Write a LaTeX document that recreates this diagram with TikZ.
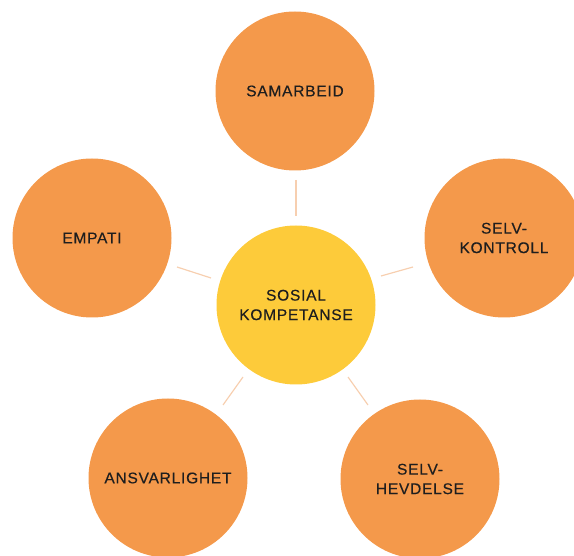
\documentclass[tikz,border=0pt]{standalone}
\usepackage{fontspec}
\setmainfont[LetterSpace=5,FakeBold=0.4]{Liberation Sans}
\definecolor{orangec}{HTML}{F4994B}
\definecolor{yellowc}{HTML}{FDCB3A}
\definecolor{linkc}{HTML}{F7CFB0}
\definecolor{txtc}{HTML}{1E1E1E}
\tikzset{
  bubble/.style={circle, fill=orangec, minimum size=159pt, inner sep=0pt, align=center, text=txtc, font=\fontsize{15.5}{19.5}\selectfont},
  hub/.style={bubble, fill=yellowc},
  link/.style={draw=linkc, line width=1.2pt}
}
\begin{document}
\begin{tikzpicture}[x=1pt,y=-1pt]
\useasboundingbox (0,0) rectangle (574,556);
\node[hub] (c) at (296,305) {SOSIAL\\KOMPETANSE};
\node[bubble] (s) at (295,91) {SAMARBEID};
\node[bubble] (e) at (92,238) {EMPATI};
\node[bubble] (k) at (504,238) {SELV-\\KONTROLL};
\node[bubble] (a) at (168,478) {ANSVARLIGHET};
\node[bubble] (h) at (420,479) {SELV-\\HEVDELSE};
\coordinate (s1) at (296,180); \coordinate (s2) at (296,216);
\coordinate (e1) at (177,267); \coordinate (e2) at (211,278);
\coordinate (k1) at (381,276); \coordinate (k2) at (413,267);
\coordinate (a1) at (223,405); \coordinate (a2) at (243,377);
\coordinate (h1) at (348,377); \coordinate (h2) at (368,405);
\draw[link] (s1) -- (s2);
\draw[link] (e1) -- (e2);
\draw[link] (k1) -- (k2);
\draw[link] (a1) -- (a2);
\draw[link] (h1) -- (h2);
\end{tikzpicture}
\end{document}
